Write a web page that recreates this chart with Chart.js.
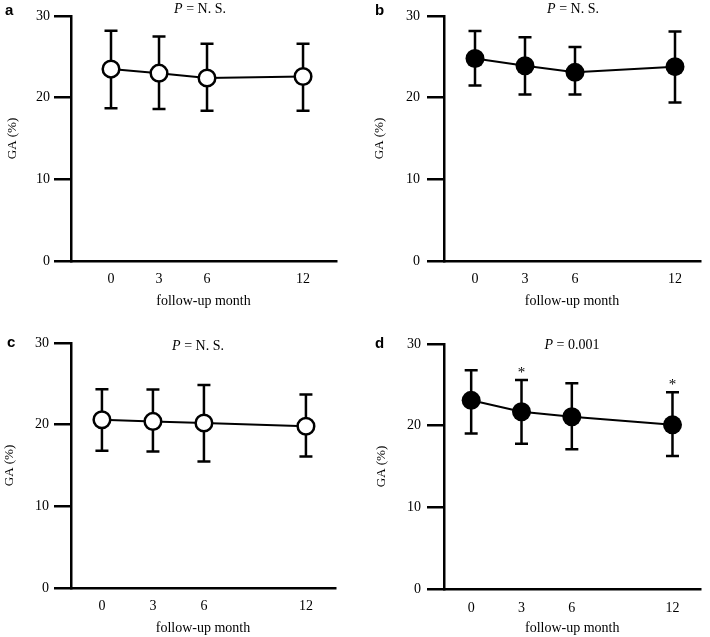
<!DOCTYPE html>
<html>
<head>
<meta charset="utf-8">
<script src="https://cdn.jsdelivr.net/npm/chart.js@4/dist/chart.umd.min.js"></script>
<style>
  html, body { margin: 0; padding: 0; background: #fff; }
  body { width: 710px; height: 637px; position: relative; overflow: hidden; }
  canvas { position: absolute; display: block; }
</style>
</head>
<body>
<canvas id="ca" width="355" height="320" style="left:0px;top:0px"></canvas>
<canvas id="cb" width="355" height="320" style="left:355px;top:0px"></canvas>
<canvas id="cc" width="355" height="317" style="left:0px;top:320px"></canvas>
<canvas id="cd" width="355" height="317" style="left:355px;top:320px"></canvas>
<script>
// ---------- data ----------
const months = [0, 3, 6, 12];
const monthLabels = ['0', '3', '6', '12'];
const yTickValues = [0, 10, 20, 30];
const xTitle = 'follow-up month';
const yTitle = 'GA (%)';

const gaA = [23.5, 23.0, 22.4, 22.6];
const upperA = [28.2, 27.5, 26.6, 26.6];
const lowerA = [18.7, 18.6, 18.4, 18.4];

const gaB = [24.8, 23.9, 23.1, 23.8];
const upperB = [28.15, 27.4, 26.2, 28.1];
const lowerB = [21.5, 20.4, 20.4, 19.4];

const gaC = [20.6, 20.4, 20.2, 19.8];
const upperC = [24.35, 24.3, 24.85, 23.7];
const lowerC = [16.8, 16.7, 15.5, 16.1];

const gaD = [23.1, 21.7, 21.1, 20.1];
const upperD = [26.8, 25.6, 25.2, 24.1];
const lowerD = [19.05, 17.8, 17.1, 16.3];

const panelLetters = ['a', 'b', 'c', 'd'];
const pValues = ['N. S.', 'N. S.', 'N. S.', '0.001'];
const starsD = [false, true, false, true];

// ---------- layout / style ----------
const SERIF = "'Liberation Serif', 'Times New Roman', serif";
const SANS = "'Liberation Sans', Arial, sans-serif";

const panels = [
  { id: 'ca', mean: gaA, up: upperA, lo: lowerA, stars: null, filled: false,
    yW: 71, xH: 59, padTop: 16, padRight: 19, xMin: -2.5, xMax: 14.06,
    yLabPad: 4, yTitlePad: 5, xTickPad: 10, xTitlePad: 10, pX: 200, pY: 9, letX: 5, letY: 15 },
  { id: 'cb', mean: gaB, up: upperB, lo: lowerB, stars: null, filled: true,
    yW: 89, xH: 59, padTop: 16, padRight: 10, xMin: -1.86, xMax: 13.5,
    yLabPad: 7, yTitlePad: 17, xTickPad: 10, xTitlePad: 10, pX: 218, pY: 9, letX: 20, letY: 15 },
  { id: 'cc', mean: gaC, up: upperC, lo: lowerC, stars: null, filled: false,
    yW: 71, xH: 49, padTop: 23, padRight: 20, xMin: -1.82, xMax: 13.71,
    yLabPad: 5, yTitlePad: 2, xTickPad: 10, xTitlePad: 0, pX: 198, pY: 26, letX: 7, letY: 27 },
  { id: 'cd', mean: gaD, up: upperD, lo: lowerD, stars: starsD, filled: true,
    yW: 89, xH: 48, padTop: 24, padRight: 1, xMin: -1.62, xMax: 13.67,
    yLabPad: 6, yTitlePad: 19, xTickPad: 11, xTitlePad: 0, pX: 217, pY: 25, letX: 20, letY: 28 }
];

const errorBarPlugin = {
  id: 'errbars',
  beforeDatasetsDraw(chart, args, opts) {
    const ctx = chart.ctx, xs = chart.scales.x, ys = chart.scales.y;
    ctx.save();
    ctx.strokeStyle = '#000';
    ctx.lineWidth = 2.5;
    ctx.lineCap = 'butt';
    months.forEach((m, i) => {
      const x = xs.getPixelForValue(m);
      const yu = ys.getPixelForValue(opts.up[i]);
      const yl = ys.getPixelForValue(opts.lo[i]);
      ctx.beginPath();
      ctx.moveTo(x, yu); ctx.lineTo(x, yl);
      ctx.moveTo(x - 6.5, yu); ctx.lineTo(x + 6.5, yu);
      ctx.moveTo(x - 6.5, yl); ctx.lineTo(x + 6.5, yl);
      ctx.stroke();
      if (opts.stars && opts.stars[i]) {
        ctx.fillStyle = '#000';
        ctx.font = '15px ' + SERIF;
        ctx.textAlign = 'center';
        ctx.textBaseline = 'alphabetic';
        ctx.fillText('*', x, yu - 3);
      }
    });
    ctx.restore();
  }
};

const annotPlugin = {
  id: 'annot',
  afterDraw(chart, args, opts) {
    const ctx = chart.ctx;
    ctx.save();
    ctx.fillStyle = '#000';
    // panel letter
    ctx.font = 'bold 15px ' + SANS;
    ctx.textAlign = 'left';
    ctx.textBaseline = 'alphabetic';
    ctx.fillText(opts.letter, opts.letX, opts.letY);
    // P value title
    ctx.textBaseline = 'middle';
    const fI = 'italic 14px ' + SERIF, fN = '14px ' + SERIF;
    const rest = ' = ' + opts.p;
    ctx.font = fI; const wP = ctx.measureText('P').width;
    ctx.font = fN; const wR = ctx.measureText(rest).width;
    const x0 = opts.pX - (wP + wR) / 2;
    ctx.font = fI; ctx.fillText('P', x0, opts.pY);
    ctx.font = fN; ctx.fillText(rest, x0 + wP, opts.pY);
    ctx.restore();
  }
};

panels.forEach((p, k) => {
  const ctx = document.getElementById(p.id).getContext('2d');
  new Chart(ctx, {
    type: 'line',
    data: {
      datasets: [{
        data: months.map((m, i) => ({ x: m, y: p.mean[i] })),
        borderColor: '#000',
        borderWidth: 2,
        pointRadius: p.filled ? 9.5 : 8.3,
        pointBorderWidth: p.filled ? 0 : 2.5,
        pointBackgroundColor: p.filled ? '#000' : '#fff',
        pointBorderColor: '#000',
        tension: 0,
        fill: false
      }]
    },
    plugins: [errorBarPlugin, annotPlugin],
    options: {
      responsive: false,
      animation: false,
      devicePixelRatio: 1,
      layout: { padding: { top: p.padTop, right: p.padRight, left: 0, bottom: 0 } },
      plugins: {
        legend: { display: false },
        tooltip: { enabled: false },
        errbars: { up: p.up, lo: p.lo, stars: p.stars },
        annot: { letter: panelLetters[k], p: pValues[k], pX: p.pX, pY: p.pY, letX: p.letX, letY: p.letY }
      },
      scales: {
        x: {
          type: 'linear',
          min: p.xMin, max: p.xMax,
          afterBuildTicks: s => { s.ticks = months.map(v => ({ value: v })); },
          afterFit: s => { s.height = p.xH; },
          ticks: {
            color: '#000',
            font: { family: SERIF, size: 14 },
            padding: p.xTickPad,
            maxRotation: 0,
            autoSkip: false,
            callback: v => { const i = months.indexOf(v); return i >= 0 ? monthLabels[i] : ''; }
          },
          grid: { display: true, drawOnChartArea: false, drawTicks: false, lineWidth: 2.5, color: '#000' },
          border: { display: true, color: '#000', width: 2.5 },
          title: { display: true, text: xTitle, color: '#000', font: { family: SERIF, size: 14 },
                   padding: { top: 0, bottom: p.xTitlePad } }
        },
        y: {
          min: 0, max: 30,
          afterBuildTicks: s => { s.ticks = yTickValues.map(v => ({ value: v })); },
          afterFit: s => { s.width = p.yW; },
          ticks: {
            color: '#000',
            font: { family: SERIF, size: 14 },
            padding: p.yLabPad
          },
          grid: { display: true, drawOnChartArea: false, drawTicks: true, tickLength: 17,
                  tickWidth: 2.5, tickColor: '#000', lineWidth: 2.5, color: '#000' },
          border: { display: true, color: '#000', width: 2.5 },
          title: { display: true, text: yTitle, color: '#000', font: { family: SERIF, size: 13 },
                   padding: { top: p.yTitlePad, bottom: 0 } }
        }
      }
    }
  });
});
</script>
</body>
</html>
